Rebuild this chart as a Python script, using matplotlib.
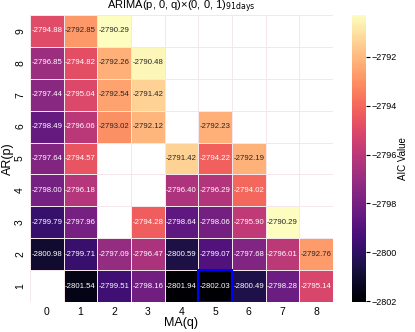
import numpy as np
import pandas as pd
import matplotlib
matplotlib.use("Agg")
import matplotlib.pyplot as plt
from matplotlib.patches import Rectangle
import seaborn as sns

plt.rcParams['font.family'] = ['Liberation Sans', 'DejaVu Sans']

ar_orders = [9, 8, 7, 6, 5, 4, 3, 2, 1]
ma_orders = [0, 1, 2, 3, 4, 5, 6, 7, 8]
nan = np.nan

aic_9 = [-2794.88, -2792.85, -2790.29, nan, nan, nan, nan, nan, nan]
aic_8 = [-2796.85, -2794.82, -2792.26, -2790.48, nan, nan, nan, nan, nan]
aic_7 = [-2797.44, -2795.04, -2792.54, -2791.42, nan, nan, nan, nan, nan]
aic_6 = [-2798.49, -2796.06, -2793.02, -2792.12, nan, -2792.23, nan, nan, nan]
aic_5 = [-2797.64, -2794.57, nan, nan, -2791.42, -2794.22, -2792.19, nan, nan]
aic_4 = [-2798.00, -2796.18, nan, nan, -2796.40, -2796.29, -2794.02, nan, nan]
aic_3 = [-2799.79, -2797.96, nan, -2794.28, -2798.64, -2798.06, -2795.90, -2790.29, nan]
aic_2 = [-2800.98, -2799.71, -2797.09, -2796.47, -2800.59, -2799.07, -2797.68, -2796.01, -2792.76]
aic_1 = [nan, -2801.54, -2799.51, -2798.16, -2801.94, -2802.03, -2800.49, -2798.28, -2795.14]

table = pd.DataFrame([aic_9, aic_8, aic_7, aic_6, aic_5, aic_4, aic_3, aic_2, aic_1],
                     index=ar_orders, columns=ma_orders)

fig = plt.figure(figsize=(4.15, 3.32), dpi=100)
ax = fig.add_axes([0.072, 0.0904, 0.730, 0.8646])
cax = fig.add_axes([0.848, 0.0904, 0.034, 0.8646])

sns.heatmap(table, ax=ax, cbar_ax=cax, cmap="magma", annot=True, fmt=".2f",
            annot_kws={"size": 5.6}, linewidths=0.5, linecolor="#f4e6ea",
            cbar_kws={"label": "AIC Value"})

# highlight the best model
r, c = np.unravel_index(np.nanargmin(table.values), table.shape)
ax.add_patch(Rectangle((c, r), 1, 1, fill=False, edgecolor="blue", lw=1.5, zorder=5))

ax.set_title(r"ARIMA(p, 0, q)×(0, 0, 1)$_{\mathrm{91days}}$", fontsize=8, pad=2)
ax.set_xlabel("MA(q)", fontsize=9, labelpad=0)
ax.set_ylabel("AR(p)", fontsize=9, labelpad=1)
ax.tick_params(axis="both", labelsize=7.5, length=0)
plt.setp(ax.get_yticklabels(), rotation=90, va="center")
plt.setp(ax.get_xticklabels(), rotation=0)

cax.tick_params(labelsize=6.5, length=3, pad=1)
cax.set_ylabel("AIC Value", fontsize=7, labelpad=1)
cax.set_yticks([-2792, -2794, -2796, -2798, -2800, -2802])

fig.savefig("out.png", dpi=100)
